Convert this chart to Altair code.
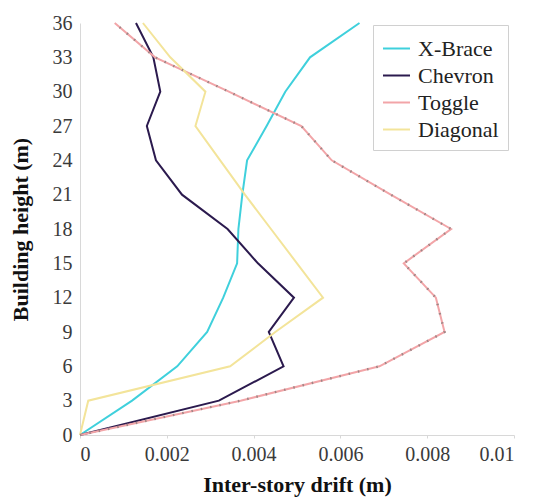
import altair as alt
import pandas as pd

heights = [0, 3, 6, 9, 12, 15, 18, 21, 24, 27, 30, 33, 36]
xbrace = [0, 0.0012, 0.00224, 0.00293, 0.0033, 0.00362, 0.00365, 0.00374, 0.00385, 0.0043, 0.00473, 0.0053, 0.00644]
chevron = [0, 0.0032, 0.00469, 0.00435, 0.00493, 0.0041, 0.0034, 0.00235, 0.00175, 0.00154, 0.00185, 0.00169, 0.00129]
toggle = [0, 0.0037, 0.0069, 0.0084, 0.0082, 0.00746, 0.00855, 0.00716, 0.0058, 0.0051, 0.00343, 0.00173, 0.0008]
diagonal = [0, 0.00019, 0.00346, 0.0045, 0.0056, 0.005, 0.0044, 0.0038, 0.00323, 0.00266, 0.00289, 0.00208, 0.00145]

series_names = ["X-Brace", "Chevron", "Toggle", "Diagonal"]
series_colors = ["#3fd0dc", "#2b1a4e", "#f2a5a8", "#f3e49a"]
x_ticks = [0, 0.002, 0.004, 0.006, 0.008, 0.01]

rows = []
for name, vals in zip(series_names, [xbrace, chevron, toggle, diagonal]):
    for h, v in zip(heights, vals):
        rows.append({"series": name, "height": h, "drift": v})
df = pd.DataFrame(rows)

FONT = "Liberation Serif"

x_enc = alt.X("drift:Q", scale=alt.Scale(domain=[0, 0.01], nice=False),
              axis=alt.Axis(title="Inter-story drift (m)", values=x_ticks,
                            format="~g", grid=False, domainColor="#d8d8d8",
                            tickColor="#d8d8d8", tickSize=3, labelOverlap=False,
                            labelFont=FONT, labelFontSize=20, labelColor="#3a3a3a",
                            labelPadding=6, titlePadding=10,
                            titleFont=FONT, titleFontSize=22, titleFontWeight="bold", titleColor="#111111"))
y_enc = alt.Y("height:Q", scale=alt.Scale(domain=[0, 36], nice=False),
              axis=alt.Axis(title="Building height (m)", values=heights, grid=False,
                            domainColor="#d8d8d8", ticks=False, labelOverlap=False,
                            labelFont=FONT, labelFontSize=20, labelColor="#3a3a3a",
                            labelPadding=8, titlePadding=20,
                            titleFont=FONT, titleFontSize=22, titleFontWeight="bold", titleColor="#111111"))

lines = alt.Chart(df).mark_line(strokeWidth=2).encode(
    x=x_enc,
    y=y_enc,
    order="height:Q",
    color=alt.Color("series:N", scale=alt.Scale(domain=series_names, range=series_colors),
                    sort=series_names,
                    legend=alt.Legend(title=None, orient="none", legendX=293, legendY=2,
                                      symbolType="stroke", symbolSize=729, symbolStrokeWidth=2,
                                      rowPadding=1, padding=9, strokeColor="#d0d0d0",
                                      fillColor="white", labelOffset=7,
                                      labelFont=FONT, labelFontSize=22, labelColor="#222222")),
)

toggle_dots = alt.Chart(df).transform_filter(alt.datum.series == "Toggle").mark_line(
    strokeWidth=2.4, color="#a08585", strokeDash=[1.5, 8]
).encode(x=x_enc, y=y_enc, order="height:Q")

chart = alt.layer(lines, toggle_dots).properties(
    width=434, height=412,
    autosize=alt.AutoSizeParams(type="none"),
    padding={"left": 80, "top": 23, "right": 19, "bottom": 62},
).configure_view(stroke=None).configure_axis(labelOverlap=False)

chart.save("out.html", embed_options={"renderer": "svg", "actions": False})
